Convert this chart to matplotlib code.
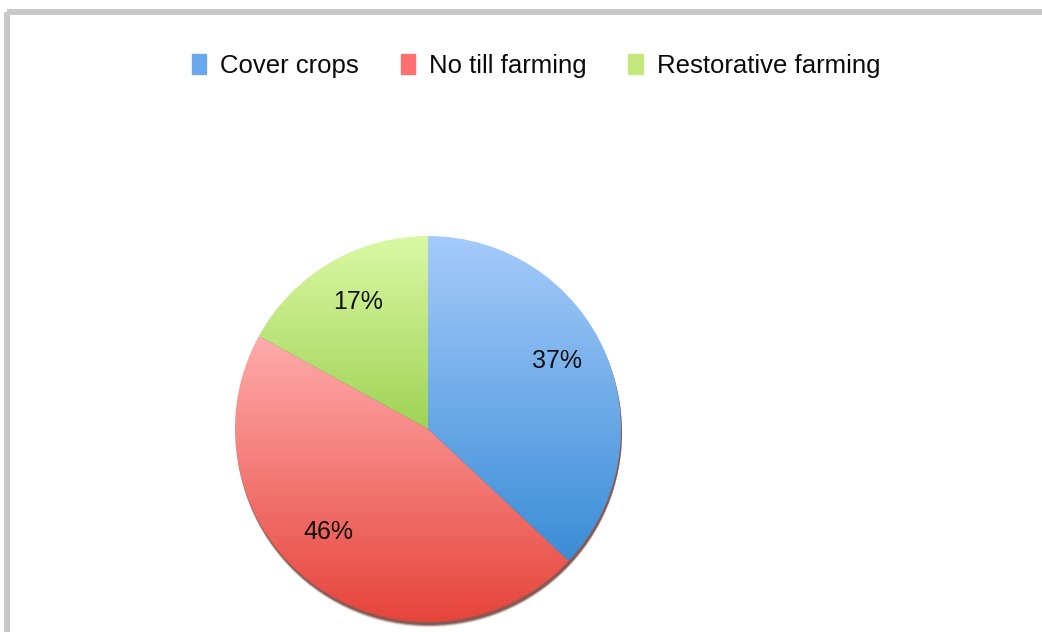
import numpy as np
import matplotlib
matplotlib.use("Agg")
import matplotlib.pyplot as plt
from matplotlib.colors import LinearSegmentedColormap
from matplotlib.patches import Rectangle, Circle

categories = ["Cover crops", "No till farming", "Restorative farming"]
values = [37, 46, 17]
top_colors = ["#a6cbfb", "#ffacac", "#daf9a4"]
bottom_colors = ["#3a8dd6", "#e6443b", "#9fd356"]
legend_colors = ["#6aa8ec", "#ff7070", "#c4e77e"]

W, H = 1042, 632
fig = plt.figure(figsize=(W / 100, H / 100), dpi=100)
ax = fig.add_axes([0, 0, 1, 1])

font = ["Liberation Sans", "DejaVu Sans"]

cx, cy, R = 428, 429, 193

wedges, texts, autotexts = ax.pie(
    values, center=(cx, cy), radius=R, startangle=-90, counterclock=True,
    autopct="%1.0f%%", pctdistance=0.76, frame=True,
    wedgeprops=dict(lw=0),
    textprops=dict(fontsize=18, family=font, color="#111111"),
)
ax.set_xlim(0, W)
ax.set_ylim(H, 0)
ax.set_aspect("equal")
ax.axis("off")

# chart border (light gray frame)
ax.add_patch(Rectangle((7, 9), W - 7, 5.5, color="#c8c8c8", lw=0, zorder=1))
ax.add_patch(Rectangle((4, 12), 6, H - 12, color="#c8c8c8", lw=0, zorder=1))

# soft shadow under the pie
for off, a in [(5, 0.2), (4, 0.32), (3, 0.5)]:
    ax.add_patch(Circle((cx + 1, cy + off), R, color="#5a1d14", alpha=a, lw=0, zorder=2))

for w, tc, bc in zip(wedges, top_colors, bottom_colors):
    w.set_facecolor("none")
    w.set_zorder(3)
    ext = w.get_path().get_extents()
    cmap = LinearSegmentedColormap.from_list("g", [tc, bc])
    grad = np.linspace(0, 1, 256).reshape(-1, 1)
    im = ax.imshow(grad, cmap=cmap, aspect="auto",
                   extent=(ext.x0, ext.x1, ext.y1, ext.y0),
                   zorder=3, interpolation="bilinear")
    im.set_clip_path(w)

label_pos = [(557, 361), (328, 532), (358, 302)]
for t, p in zip(autotexts, label_pos):
    t.set_zorder(5)
    t.set_position(p)

ax.set_xlim(0, W)
ax.set_ylim(H, 0)

handles = [Rectangle((0, 0), 1, 1, color=c) for c in legend_colors]
leg = fig.legend(handles, categories, loc="center", bbox_to_anchor=(536 / W, 1 - 66 / H),
                 ncol=3, frameon=False, handlelength=0.55, handleheight=0.8,
                 handletextpad=0.55, columnspacing=1.63,
                 prop=dict(family=font, size=18.5))
for t in leg.get_texts():
    t.set_color("#0a0a0a")

fig.savefig("out.png", dpi=100)
